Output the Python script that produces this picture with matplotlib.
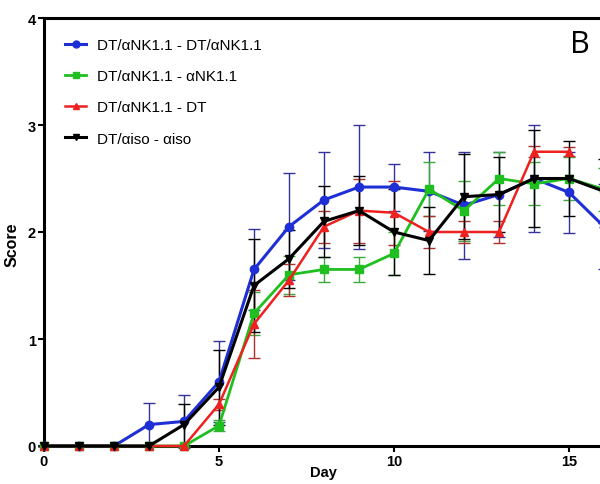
import matplotlib
matplotlib.use("Agg")
import matplotlib.pyplot as plt
from matplotlib.lines import Line2D
import numpy as np

days = list(range(0, 17))
days_red = list(range(0, 16))

labels = ["DT/αNK1.1 - DT/αNK1.1", "DT/αNK1.1 - αNK1.1", "DT/αNK1.1 - DT", "DT/αiso - αiso"]

blue = [0, 0, 0, 0.20, 0.23, 0.60, 1.65, 2.05, 2.30, 2.42, 2.42, 2.38, 2.25, 2.35, 2.50, 2.37, 2.05]
blue_err = [0, 0, 0, 0.20, 0.25, 0.38, 0.38, 0.50, 0.45, 0.58, 0.22, 0.37, 0.50, 0.40, 0.50, 0.38, 0.40]

green = [0, 0, 0, 0, 0, 0.19, 1.24, 1.60, 1.65, 1.65, 1.80, 2.40, 2.20, 2.50, 2.45, 2.50, 2.40]
green_err = [0, 0, 0, 0, 0, 0.05, 0.20, 0.18, 0.12, 0.12, 0.20, 0.25, 0.28, 0.25, 0.20, 0.20, 0.20]

red = [0, 0, 0, 0, 0, 0.39, 1.14, 1.55, 2.05, 2.20, 2.18, 2.00, 2.00, 2.00, 2.75, 2.75]
red_err = [0, 0, 0, 0, 0, 0.05, 0.32, 0.15, 0.15, 0.30, 0.30, 0.15, 0.10, 0.10, 0.05, 0.04]

black = [0, 0, 0, 0, 0.20, 0.55, 1.50, 1.75, 2.10, 2.20, 2.00, 1.92, 2.33, 2.35, 2.50, 2.50, 2.38]
black_err = [0, 0, 0, 0, 0.19, 0.35, 0.43, 0.27, 0.33, 0.32, 0.40, 0.31, 0.40, 0.35, 0.45, 0.35, 0.30]

fig = plt.figure(figsize=(6.0, 4.85), dpi=100)
W, H = 600, 485
ax = fig.add_axes([44 / W, 38 / H, 595 / W, 428 / H])

series = [
    (days, blue, blue_err, "#1f2fd6", "#333399", "o", 2.2, 6),
    (days, green, green_err, "#1fbf1f", "#3caa3c", "s", 2.0, 6),
    (days_red, red, red_err, "#ee2020", "#b03030", "^", 1.8, 6),
    (days, black, black_err, "#000000", "#000000", "v", 2.2, 6),
]

handles = []
for (x, y, e, c, ec, m, lw, ms), lab in zip(series, labels):
    ax.errorbar(x, y, yerr=e, color=c, ecolor=ec, elinewidth=1.0, capsize=4,
                capthick=1.0, marker=m, markersize=ms, linewidth=lw,
                clip_on=False, zorder=3)
    handles.append(Line2D([], [], color=c, marker=m, markersize=5, linewidth=lw, label=lab))

ax.set_xlim(0, 17)
ax.set_ylim(0, 4)
ax.set_xticks([0, 5, 10, 15])
ax.set_yticks([0, 1, 2, 3, 4])

for side in ["left", "bottom", "top"]:
    ax.spines[side].set_linewidth(2.2)
ax.spines["right"].set_visible(False)

ax.tick_params(axis="both", direction="out", length=4, width=1.5, pad=2,
               labelsize=10.5)
for t in ax.get_xticklabels() + ax.get_yticklabels():
    t.set_fontweight("bold")
    t.set_family(["Liberation Sans", "DejaVu Sans"])

ax.set_xlabel("Day", fontsize=10.5, fontweight="bold", family=["Liberation Sans", "DejaVu Sans"])
ax.xaxis.set_label_coords((323 - 44) / 595, -19 / 428)
ax.set_ylabel("Score", fontsize=11.5, fontweight="bold", family=["Liberation Sans", "DejaVu Sans"])
ax.yaxis.set_label_coords((20 - 44) / 595, (447 - 245) / 428)

leg = ax.legend(handles=handles, loc="upper left", bbox_to_anchor=(0.012, 0.985), frameon=False,
                handlelength=1.4, handletextpad=0.7, labelspacing=1.12,
                prop={"family": ["Liberation Sans", "DejaVu Sans"], "size": 11})

fig.text(580 / W, 1 - 45 / H, "B", fontsize=22, ha="center", va="center",
         family=["Open Sans", "DejaVu Sans"])

fig.savefig("out.png", dpi=100)
